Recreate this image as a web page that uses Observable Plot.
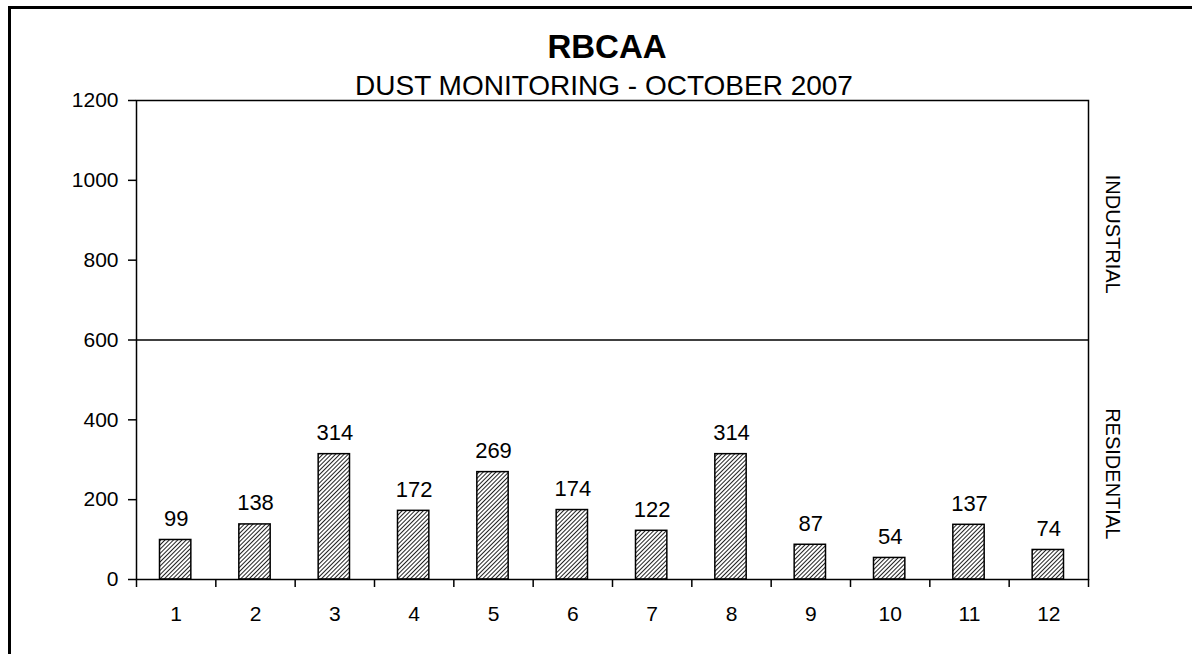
<!DOCTYPE html>
<html>
<head>
<meta charset="utf-8">
<script src="https://cdn.jsdelivr.net/npm/d3@7"></script>
<script src="https://cdn.jsdelivr.net/npm/@observablehq/plot@0.6"></script>
<style>
  html, body { margin: 0; padding: 0; background: #fff; }
  #wrap { position: relative; width: 1192px; height: 654px; overflow: hidden; font-family: "Liberation Sans", Arial, sans-serif; color: #000; }
  #border { position: absolute; left: 8px; top: 6px; right: -10px; bottom: -10px; border-left: 3px solid #000; border-top: 3px solid #000; }
  #chart { position: absolute; left: 0; top: 0; }
  .ttl { position: absolute; white-space: nowrap; transform: translateX(-50%); line-height: 1; }
  #title { left: 607px; top: 30px; font-size: 33px; font-weight: bold; }
  #subtitle { left: 604px; top: 72px; font-size: 28px; }
</style>
</head>
<body>
<div id="wrap">
  <div id="border"></div>
  <div id="chart"></div>
  <div id="title" class="ttl">RBCAA</div>
  <div id="subtitle" class="ttl">DUST MONITORING - OCTOBER 2007</div>
</div>
<script>
// ---- data ----
const categories = [1, 2, 3, 4, 5, 6, 7, 8, 9, 10, 11, 12];
const values = [99, 138, 314, 172, 269, 174, 122, 314, 87, 54, 137, 74];
const yTicks = [0, 200, 400, 600, 800, 1000, 1200];
const zoneLabels = ["INDUSTRIAL", "RESIDENTIAL"];
const zoneLow = [600, 0];
const zoneHigh = [1200, 600];
const limit = [600];

const data = categories.map((c, i) => ({cat: c, value: values[i]}));
const zones = zoneLabels.map((l, i) => ({label: l, low: zoneLow[i], high: zoneHigh[i]}));
const boundaries = [0, ...categories].map(c => c + 0.5);

const chart = Plot.plot({
  width: 1192,
  height: 654,
  marginLeft: 136,
  marginRight: 104,
  marginTop: 100,
  marginBottom: 75,
  style: {fontFamily: "'Liberation Sans', Arial, sans-serif", background: "transparent", color: "#000"},
  x: {type: "linear", domain: [0.5, 12.5], label: null},
  y: {domain: [0, 1200], label: null},
  marks: [
    Plot.rect(data, {
      x1: d => d.cat - 0.5, x2: d => d.cat + 0.5, y1: 0, y2: "value",
      insetLeft: 23.5, insetRight: 24.5,
      fill: "url(#hatch)", stroke: "#000", strokeWidth: 1.5
    }),
    Plot.ruleY(limit, {stroke: "#000", strokeWidth: 1.5}),
    Plot.frame({stroke: "#000", strokeWidth: 1.5}),
    Plot.axisY(yTicks, {tickSize: 8, tickPadding: 10, fontSize: 21, strokeWidth: 1.5, tickFormat: d => String(d), label: null}),
    Plot.axisX(boundaries, {tickSize: 8, tickFormat: () => "", strokeWidth: 1.5, label: null}),
    Plot.axisX(categories, {tickSize: 0, tickPadding: 27, fontSize: 21, tickFormat: d => String(d), label: null}),
    Plot.text(data, {
      x: "cat", y: "value", text: d => String(d.value),
      lineAnchor: "bottom", dy: -14, fontSize: 22, fill: "#000"
    }),
    Plot.text(zones, {
      x: () => 12.5, y: d => (d.low + d.high) / 2, text: "label",
      rotate: 90, dx: 24, dy: 14, fontSize: 20, fill: "#000"
    })
  ]
});

// hatch pattern for the bars
const ns = "http://www.w3.org/2000/svg";
const defs = document.createElementNS(ns, "defs");
defs.innerHTML = `<pattern id="hatch" patternUnits="userSpaceOnUse" width="3" height="3" patternTransform="rotate(45)">
  <rect width="3" height="3" fill="#fff"></rect>
  <line x1="0.5" y1="0" x2="0.5" y2="3" stroke="#222" stroke-width="1"></line>
</pattern>`;
chart.insertBefore(defs, chart.firstChild);

document.getElementById("chart").appendChild(chart);
</script>
</body>
</html>
